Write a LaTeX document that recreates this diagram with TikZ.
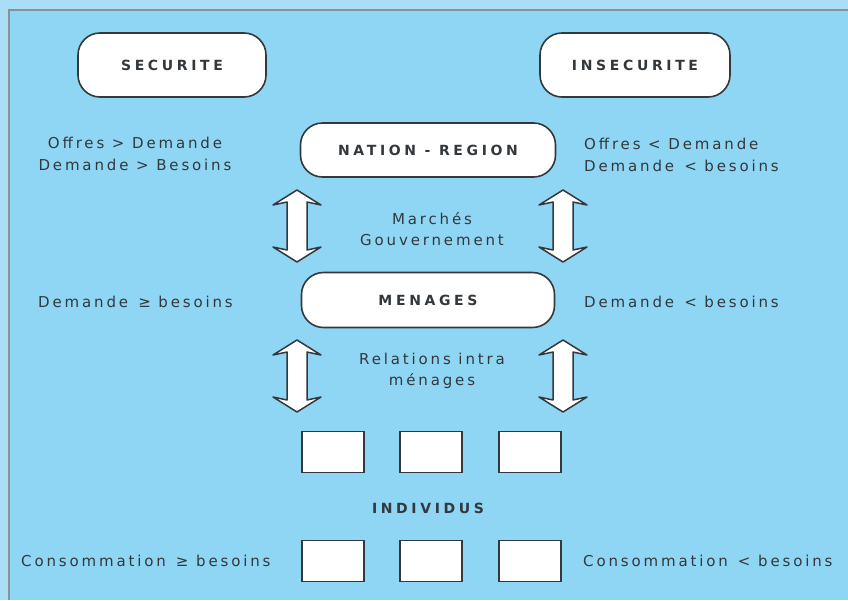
\documentclass[tikz,border=0pt]{standalone}
\usepackage{fontspec}
\setmainfont{DejaVu Sans}
\definecolor{outerbg}{HTML}{AADDF6}
\definecolor{innerbg}{HTML}{8ED6F4}
\definecolor{ink}{HTML}{33383D}
\definecolor{framecol}{HTML}{8A9298}
\newcommand\dblarrow[3]{%
  \draw[arrowshape] (#1,#2) -- (#1+24,#2+15) -- (#1+10,#2+12) -- (#1+10,#3-12) -- (#1+24,#3-15) -- (#1,#3)
    -- (#1-24,#3-15) -- (#1-10,#3-12) -- (#1-10,#2+12) -- (#1-24,#2+15) -- cycle;}
\begin{document}
\begin{tikzpicture}[x=1pt,y=-1pt,
  every node/.style={text=ink},
  txt/.style={font=\fontsize{15}{21.5}\selectfont\addfontfeatures{LetterSpace=19}, align=center, inner sep=0pt},
  pill/.style={draw=ink, line width=1.6pt, fill=white, rounded corners=22pt,
     font=\bfseries\fontsize{14}{16}\selectfont\addfontfeatures{LetterSpace=26}, inner sep=0pt},
  ibox/.style={draw=ink, line width=1.6pt, fill=white, minimum width=62pt, minimum height=41pt, inner sep=0pt},
  arrowshape/.style={draw=ink, line width=1.5pt, fill=white, line join=round}]
\useasboundingbox (0,0) rectangle (848,600);
\fill[outerbg] (0,0) rectangle (848,600);
\fill[innerbg] (9,10) rectangle (848,600);
\draw[framecol, line width=1.5pt] (9,600) -- (9,10) -- (848,10);

\node[pill, minimum width=188pt, minimum height=64pt] (sec) at (172,65) {SECURITE};
\node[pill, minimum width=190pt, minimum height=64pt] (insec) at (635,65) {INSECURITE};
\node[pill, minimum width=255pt, minimum height=54pt] (nation) at (428,150) {NATION - REGION};
\node[pill, minimum width=253pt, minimum height=55pt] (menages) at (428,300) {MENAGES};

\node[txt] (offl) at (135,154) {Offres > Demande\\Demande > Besoins};
\node[txt, align=left, anchor=west] (offr) at (584,155) {Offres < Demande\\Demande \,< besoins};

\node[txt] (march) at (432,229) {Marchés\\Gouvernement};
\node[txt] (rel) at (432,371) {Relations intra\\ménages};

\node[txt, anchor=west] (deml) at (38,302) {Demande \,≥ besoins};
\node[txt, anchor=west] (demr) at (584,302) {Demande \,< besoins};

\dblarrow{297}{190}{262}
\dblarrow{563}{190}{262}
\dblarrow{297}{340}{412}
\dblarrow{563}{340}{412}

\node[ibox] (b1) at (333,452) {};
\node[ibox] (b2) at (431,452) {};
\node[ibox] (b3) at (530,452) {};
\node[txt, font=\bfseries\fontsize{14}{16}\selectfont\addfontfeatures{LetterSpace=26}] (ind) at (428,508) {INDIVIDUS};
\node[ibox] (c1) at (333,561) {};
\node[ibox] (c2) at (431,561) {};
\node[ibox] (c3) at (530,561) {};

\node[txt, anchor=west] (consl) at (21,561) {Consommation \,≥ besoins};
\node[txt, anchor=west] (consr) at (583,561) {Consommation \,< besoins};
\end{tikzpicture}
\end{document}
